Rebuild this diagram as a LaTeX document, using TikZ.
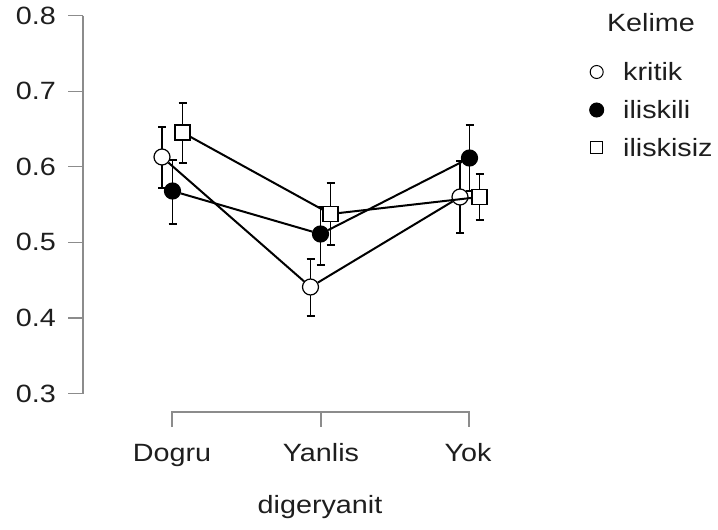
\documentclass[tikz,border=0pt]{standalone}
\usepackage{graphicx}
\usepackage{fontspec}
\setmainfont{Liberation Sans}
\definecolor{axisgray}{RGB}{140,140,140}
\definecolor{txt}{RGB}{30,30,30}
\newcommand{\wlab}[1]{\scalebox{1.15}[1]{#1}}
\tikzset{
  lbl/.style={font=\fontsize{25}{30}\selectfont, text=txt, inner sep=0pt},
  axisline/.style={draw=axisgray, line width=1.3pt},
  ebar/.style={draw=black, line width=1.5pt},
  dline/.style={draw=black, line width=2pt},
  mcirc/.style={circle, draw=black, line width=1.2pt, fill=white, minimum size=16pt, inner sep=0pt},
  mfill/.style={circle, draw=black, line width=1.2pt, fill=black, minimum size=16pt, inner sep=0pt},
  msq/.style={rectangle, draw=black, line width=1.2pt, fill=white, minimum size=15pt, inner sep=0pt},
  lcirc/.style={circle, draw=black, line width=1pt, fill=white, minimum size=13pt, inner sep=0pt},
  lfill/.style={circle, draw=black, line width=1pt, fill=black, minimum size=14pt, inner sep=0pt},
  lsq/.style={rectangle, draw=black, line width=1pt, fill=white, minimum size=12pt, inner sep=0pt},
}
\begin{document}
\begin{tikzpicture}[x=1pt,y=-1pt]
\useasboundingbox (0,0) rectangle (718,530);
% y axis
\draw[axisline] (83,15.7) -- (83,393.5);
\foreach \v/\yy in {0.8/15.7,0.7/91.2,0.6/166.7,0.5/242.2,0.4/317.9,0.3/393.5}{
  \draw[axisline] (68,\yy) -- (83,\yy);
  \node[lbl, anchor=east] (yt\v) at (56,\yy) {\wlab{\v}};
}
% x axis
\draw[axisline] (172,427) -- (172,412) -- (469,412) -- (469,427);
\draw[axisline] (321,412) -- (321,427);
\node[lbl, anchor=base] (xdogru) at (172,461.5) {\wlab{Dogru}};
\node[lbl, anchor=base] (xyanlis) at (321,461.5) {\wlab{Yanlis}};
\node[lbl, anchor=base] (xyok) at (468,461.5) {\wlab{Yok}};
\node[lbl, anchor=base] (xtitle) at (320,513) {\wlab{digeryanit}};
% error bars
\foreach \xx/\ya/\yb in {162/127/188, 172.5/160/224, 182.5/103/163,
                         310.5/259/316, 320.5/207/265, 330.5/183/245,
                         460/161/233, 469.5/125/191, 479.5/174/220}{
  \draw[ebar] (\xx,\ya) -- (\xx,\yb);
  \draw[ebar] (\xx-4,\ya) -- (\xx+4,\ya);
  \draw[ebar] (\xx-4,\yb) -- (\xx+4,\yb);
}
% markers
\node[mcirc] (k1) at (162,157) {};
\node[mcirc] (k2) at (310.5,287) {};
\node[mcirc] (k3) at (460,197) {};
\node[mfill] (i1) at (172.5,191) {};
\node[mfill] (i2) at (320.5,234) {};
\node[mfill] (i3) at (469.5,158) {};
\node[msq] (s1) at (182.5,132.5) {};
\node[msq] (s2) at (330.5,214) {};
\node[msq] (s3) at (479.5,197) {};
% lines
\draw[dline] (k1) -- (k2) -- (k3);
\draw[dline] (i1) -- (i2) -- (i3);
\draw[dline] (s1) -- (s2) -- (s3);
% legend
\node[lbl, anchor=base] (legtitle) at (651,31.7) {\wlab{Kelime}};
\node[lcirc] (lk) at (596.7,72) {};
\node[lfill] (li) at (596.7,110) {};
\node[lsq] (ls) at (596.7,147) {};
\node[lbl, anchor=base west] (tk) at (623,80) {\wlab{kritik}};
\node[lbl, anchor=base west] (ti) at (623,118.3) {\wlab{iliskili}};
\node[lbl, anchor=base west] (ts) at (623,156.5) {\wlab{iliskisiz}};
\end{tikzpicture}
\end{document}
